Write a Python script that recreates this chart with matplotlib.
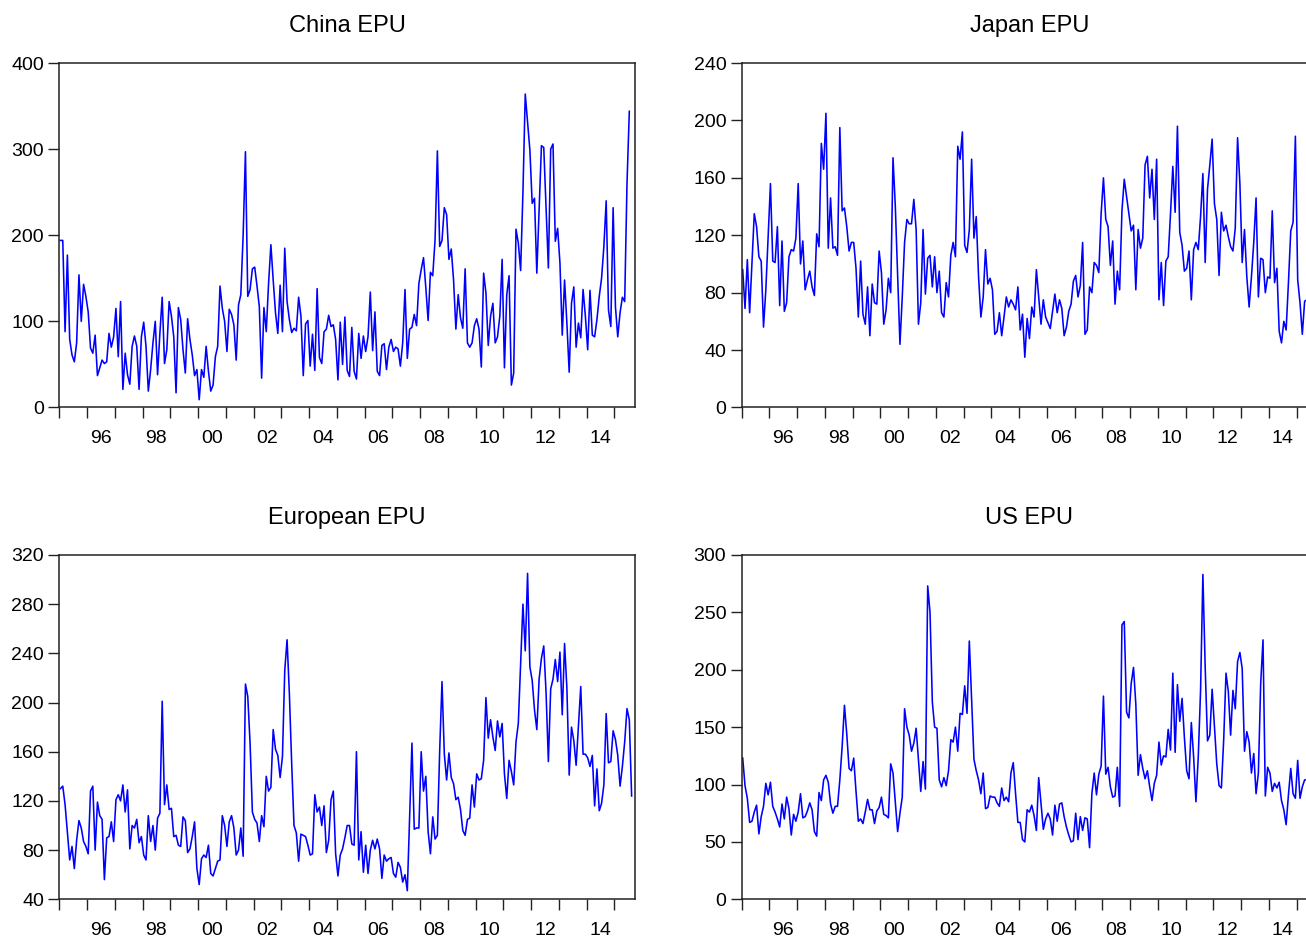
import numpy as np
import matplotlib.pyplot as plt

plt.rcParams['font.family'] = ['Liberation Sans', 'DejaVu Sans']

# monthly values, Jan 1995 onwards
china = [194, 194, 88, 177, 79, 61, 53, 75, 154, 100, 143, 129, 111, 69, 63, 84, 37, 46, 55, 51,
         53, 86, 70, 82, 115, 59, 123, 21, 63, 38, 27, 71, 83, 71, 21, 82, 99, 71, 19, 44,
         75, 100, 38, 86, 128, 51, 67, 123, 106, 82, 17, 116, 102, 67, 40, 103, 79, 61, 37, 44,
         9, 44, 35, 71, 42, 19, 26, 59, 71, 141, 115, 100, 65, 114, 108, 96, 55, 119, 131, 200,
         297, 129, 137, 161, 163, 141, 117, 34, 116, 88, 144, 189, 148, 110, 86, 142, 88, 185, 123, 102,
         87, 92, 89, 128, 106, 37, 97, 101, 48, 85, 43, 138, 58, 51, 88, 91, 107, 94, 96, 79,
         32, 99, 50, 105, 43, 36, 93,
         42, 33, 86, 57, 83, 65, 82, 134, 66, 111, 42, 37, 72, 74, 44, 70, 79, 65, 70, 68,
         48, 75, 137, 57, 91, 93, 108, 95, 144, 160, 174, 139, 101, 157, 153, 195, 298, 187, 194, 232,
         224, 172, 184, 148, 91, 131, 104, 92, 161, 75, 70, 75, 95, 103, 91, 47, 156, 133, 72, 106,
         121, 75, 82, 106, 172, 46, 131, 153, 26, 40, 207, 191, 159, 250, 364, 332, 299, 237, 243, 156,
         230, 304, 302, 233, 162, 300, 306, 193, 208, 168, 84, 148, 98, 41, 121, 140, 70, 98, 81, 137,
         106, 67, 136, 84, 82, 102, 129, 150, 187, 240, 113, 94, 232, 117, 82, 110, 128, 123, 260, 344]

japan = [96, 69, 103, 66, 101, 135, 126, 105, 102, 56, 82, 119, 156, 102, 101, 126, 71, 116, 67, 73,
         105, 110, 109, 118, 156, 100, 116, 82, 89, 95, 84, 78, 121, 112, 184, 166, 205, 111, 146, 111,
         112, 106, 195, 137, 139, 126, 109, 115, 115, 97, 63, 102, 65, 58, 84, 50, 86, 73, 72, 109,
         94, 58, 68, 90, 80, 174, 140, 91, 44, 77, 115, 131, 128, 128, 145, 124, 58, 73, 124, 79,
         104, 106, 84, 105, 80, 95, 66, 63, 87, 77, 106, 115, 105, 182, 173, 192, 113, 108, 124, 173,
         118, 133, 91, 63, 77, 110, 86, 90, 82, 51, 53, 66, 50, 63, 77, 70, 75, 72, 68, 84,
         54, 65, 35, 62, 48, 70, 63, 96,
         77, 58, 75, 63, 59, 55, 67, 79, 66, 75, 69, 50, 56, 67, 72, 88, 92, 77, 85, 115,
         51, 54, 84, 80, 101, 99, 94, 135, 160, 131, 126, 99, 116, 72, 95, 82, 137, 159, 147, 135,
         123, 127, 82, 124, 111, 118, 169, 175, 146, 166, 131, 173, 75, 101, 71, 102, 105, 135, 168, 136,
         196, 122, 113, 95, 97, 109, 75, 110, 115, 110, 133, 163, 101, 152, 169, 187, 142, 131, 92, 136,
         123, 127, 119, 112, 109, 125, 188, 156, 101, 124, 91, 70, 91, 115, 146, 77, 104, 103, 80, 91,
         90, 137, 87, 97, 53, 45, 60, 54, 87, 123, 129, 189, 89, 73, 51, 74, 75]

europe = [130, 132, 117, 94, 72, 83, 65, 88, 104, 98, 87, 83, 77, 128, 132, 80, 119, 108, 105, 56,
          90, 91, 103, 87, 121, 125, 120, 133, 111, 129, 81, 100, 98, 105, 86, 91, 76, 72, 108, 87,
          100, 80, 106, 110, 201, 117, 133, 113, 114, 91, 92, 84, 83, 107, 104, 78, 81, 91, 103, 65,
          52, 73, 76, 74, 84, 61, 59, 65, 71, 72, 108, 100, 83, 103, 108, 98, 76, 80, 98, 75,
          215, 205, 167, 111, 105, 102, 87, 108, 99, 140, 128, 131, 178, 162, 157, 139, 156, 226, 251, 207,
          150, 100, 94, 71, 93, 92, 91, 84, 76, 77, 125, 111, 115, 100, 116, 78, 88, 121, 128, 77,
          59, 76, 81, 90, 100, 100, 85, 84,
          160, 72, 95, 62, 84, 61, 80, 88, 81, 89, 81, 57, 76, 71, 73, 74, 61, 58, 70, 66,
          54, 60, 47, 107, 167, 97, 98, 98, 160, 128, 140, 95, 77, 107, 89, 92, 161, 217, 158, 137,
          159, 139, 134, 121, 123, 113, 96, 92, 105, 106, 133, 115, 142, 137, 138, 153, 204, 171, 186, 172,
          161, 185, 172, 183, 142, 122, 153, 144, 133, 168, 183, 231, 280, 242, 305, 229, 218, 194, 178, 219,
          236, 246, 208, 152, 211, 219, 235, 217, 241, 190, 248, 212, 141, 180, 169, 149, 181, 213, 158, 158,
          155, 148, 157, 116, 146, 112, 118, 133, 191, 151, 152, 177, 170, 157, 132, 148, 168, 195, 186, 124]

us = [123, 99, 88, 67, 68, 76, 82, 57, 72, 81, 101, 91, 102, 81, 76, 70, 63, 83, 70, 89,
      79, 56, 74, 68, 76, 92, 71, 72, 77, 84, 78, 59, 55, 93, 86, 104, 108, 102, 83, 75,
      81, 81, 104, 133, 169, 144, 114, 112, 123, 94, 68, 70, 66, 76, 87, 78, 78, 66, 77, 80,
      89, 74, 73, 71, 118, 110, 85, 59, 75, 89, 166, 150, 143, 129, 136, 149, 121, 94, 120, 96,
      273, 250, 172, 150, 149, 104, 98, 106, 99, 112, 139, 137, 150, 129, 162, 161, 186, 162, 225, 173,
      122, 112, 104, 92, 110, 79, 80, 90, 89, 89, 84, 81, 97, 86, 89, 85, 110, 119, 92, 67,
      67, 52, 50, 78, 76, 82, 73, 60,
      106, 83, 61, 70, 75, 70, 56, 82, 68, 83, 84, 72, 63, 56, 50, 51, 75, 52, 72, 60,
      71, 70, 45, 92, 110, 91, 109, 116, 177, 109, 115, 98, 89, 90, 115, 81, 239, 242, 163, 158,
      188, 202, 170, 108, 126, 114, 105, 112, 98, 86, 101, 108, 137, 117, 125, 124, 148, 130, 197, 128,
      187, 155, 175, 141, 112, 105, 154, 124, 85, 124, 182, 283, 202, 138, 143, 183, 150, 118, 99, 97,
      139, 197, 181, 143, 182, 166, 207, 215, 201, 129, 146, 137, 110, 127, 92, 110, 188, 226, 90, 115,
      110, 94, 101, 97, 102, 86, 78, 65, 91, 114, 92, 88, 121, 88, 98, 104, 104]

titles = ['China EPU', 'Japan EPU', 'European EPU', 'US EPU']
yticks = [[0, 100, 200, 300, 400],
          [0, 40, 80, 120, 160, 200, 240],
          [40, 80, 120, 160, 200, 240, 280, 320],
          [0, 50, 100, 150, 200, 250, 300]]
year_labels = ['96', '98', '00', '02', '04', '06', '08', '10', '12', '14']
first_year = 1995
label_years = [1996, 1998, 2000, 2002, 2004, 2006, 2008, 2010, 2012, 2014]

fig = plt.figure(figsize=(13.06, 9.41), dpi=100)
w = 0.4408
h = 0.3660
pos = [[0.0454, 0.5670, w, h], [0.5678, 0.5670, w, h],
       [0.0454, 0.0443, w, h], [0.5678, 0.0443, w, h]]

for k, data in enumerate([china, japan, europe, us]):
    ax = fig.add_axes(pos[k])
    x = np.arange(len(data))
    ax.plot(x, data, color='#0000ff', lw=1.15)
    ax.set_xlim(-0.5, 248.45)
    ax.set_ylim(yticks[k][0], yticks[k][-1])
    ax.set_yticks(yticks[k])
    # year boundaries as major ticks, labels centred in the year
    ax.set_xticks([12 * j - 0.5 for j in range(21)])
    ax.set_xticklabels([])
    ax.set_xticks([12 * (y - first_year) + 5.5 for y in label_years], minor=True)
    ax.set_xticklabels(year_labels, minor=True)
    ax.tick_params(axis='x', which='major', length=8, width=1.0, color='#222222')
    ax.tick_params(axis='x', which='minor', length=0, pad=16, labelsize=14)
    ax.tick_params(axis='y', length=8, width=1.0, color='#222222', pad=3, labelsize=14)
    for s in ax.spines.values():
        s.set_color('#222222')
        s.set_linewidth(1.1)
    ax.set_title(titles[k], fontsize=17, pad=22)

fig.savefig('out.png', dpi=100)
